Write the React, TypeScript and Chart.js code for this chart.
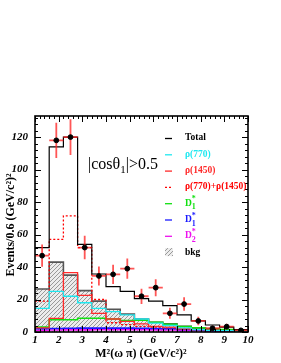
import React, { useEffect, useRef } from "react";
import { Chart, registerables } from "chart.js";
Chart.register(...registerables);

// bin low edges of M^2(omega pi), width 0.6 (GeV/c^2)^2
const binLow = [1.0, 1.6, 2.2, 2.8, 3.4, 4.0, 4.6, 5.2, 5.8, 6.4, 7.0, 7.6, 8.2, 8.8, 9.4];
const binWidth = 0.6;
const xTicks = [1, 2, 3, 4, 5, 6, 7, 8, 9, 10];
const yTicks = [0, 20, 40, 60, 80, 100, 120];

const dataCounts = [47, 118, 120, 52, 34.5, 35.5, 39, 22, 27.3, 11.5, 17.2, 6.8, 2.3, 3.3, 1];
const totalFit = [52, 114, 120, 54, 35.7, 28, 25, 20.5, 19, 16.3, 10.5, 6.8, 4.3, 3, 1.5];
const rho770 = [14.6, 25, 22, 18, 14.6, 12.5, 10.5, 8, 5.5, 4, 2.5, 1.5, 1, 0.8, 0.5];
const rho1450 = [2.5, 8.4, 36.5, 22.5, 11.5, 8, 6.5, 5, 3.5, 3, 2, 1.5, 1, 0.8, 0.5];
const rhoSum = [19, 57, 71.5, 52, 20, 5.7, 4.5, 3.5, 3, 2.5, 2, 1.5, 1, 0.6, 0.3];
const d1star0 = [3, 7.5, 7.5, 8.5, 8.5, 8, 7, 7.2, 6, 4.8, 3.3, 2.6, 2, 1.5, 1];
const d1star = [2, 2.2, 2.3, 2.4, 2.4, 2.4, 2.4, 2.3, 2.2, 2, 1.6, 1.2, 0.8, 0.5, 0.3];
const d2star0 = [1, 1.2, 1.3, 1.3, 1.4, 1.4, 1.4, 1.4, 1.3, 1.2, 1, 0.8, 0.6, 0.4, 0.2];
const bkg = [26.5, 43, 35, 25.5, 19, 14, 11, 8, 6, 5, 3.5, 2.5, 1.5, 1, 0.5];

const legendLabels = ["Total", "ρ(770)", "ρ(1450)", "ρ(770)+ρ(1450)", "D", "D", "D", "bkg"];
const legendSub = ["", "", "", "", "1", "1", "2", ""];
const legendSup = ["", "", "", "", "*", "*", "*", ""];

const SERIF = "'Liberation Serif', 'DejaVu Serif', serif";

function stepData(vals: number[]) {
  // one point at each bin's low edge (value held until the next point), plus the last upper edge
  const pts = vals.map((v, i) => ({ x: binLow[i], y: v }));
  pts.push({ x: binLow[binLow.length - 1] + binWidth, y: vals[vals.length - 1] });
  return pts;
}

function makePattern(): CanvasPattern | string {
  const c = document.createElement("canvas");
  c.width = 4;
  c.height = 4;
  const g = c.getContext("2d");
  if (!g) return "#ccc";
  g.fillStyle = "#ececec";
  g.fillRect(0, 0, 4, 4);
  g.strokeStyle = "#999999";
  g.lineWidth = 1;
  g.beginPath();
  g.moveTo(0, 4);
  g.lineTo(4, 0);
  g.moveTo(-1, 1);
  g.lineTo(1, -1);
  g.moveTo(3, 5);
  g.lineTo(5, 3);
  g.stroke();
  const p = g.createPattern(c, "repeat");
  return p || "#ccc";
}

export default function App() {
  const ref = useRef<HTMLCanvasElement>(null);
  useEffect(() => {
    document.body.style.margin = "0";
    const canvas = ref.current;
    if (!canvas) return;
    const pattern = makePattern();
    const lineColors = ["#000000", "#1fe8f0", "#ff2a2a", "#ff0000", "#10e010", "#1a1aff", "#ee10ee"];

    const overlay = {
      id: "overlay",
      beforeDatasetDraw(chart: any, args: any) {
        if (args.index !== 0) return;
        const { ctx, chartArea } = chart;
        const xs = chart.scales.x;
        const ys = chart.scales.y;
        ctx.save();
        ctx.beginPath();
        ctx.rect(chartArea.left, chartArea.top, chartArea.right - chartArea.left, chartArea.bottom - chartArea.top);
        ctx.clip();
        ctx.strokeStyle = "rgba(255,30,30,0.75)";
        ctx.lineWidth = 1.8;
        dataCounts.forEach((v, i) => {
          const xc = binLow[i] + binWidth / 2;
          const err = Math.sqrt(Math.max(v, 1));
          const px = xs.getPixelForValue(xc);
          const py = ys.getPixelForValue(v);
          ctx.beginPath();
          ctx.moveTo(xs.getPixelForValue(binLow[i]), py);
          ctx.lineTo(xs.getPixelForValue(binLow[i] + binWidth), py);
          ctx.moveTo(px, ys.getPixelForValue(v - err));
          ctx.lineTo(px, ys.getPixelForValue(v + err));
          ctx.stroke();
        });
        ctx.restore();
      },
      afterDraw(chart: any) {
        const { ctx, chartArea } = chart;
        const xs = chart.scales.x;
        const ys = chart.scales.y;
        const { left, right, top, bottom } = chartArea;
        ctx.save();
        // ticks
        ctx.strokeStyle = "#000";
        ctx.lineWidth = 1;
        ctx.beginPath();
        for (let v = 0; v <= 133; v += 4) {
          const py = Math.round(ys.getPixelForValue(v)) + 0.5;
          const len = v % 20 === 0 ? 6 : 3;
          ctx.moveTo(left, py);
          ctx.lineTo(left + len, py);
          ctx.moveTo(right, py);
          ctx.lineTo(right - len, py);
        }
        for (let k = 0; k <= 45; k++) {
          const v = 1 + k * 0.2;
          const px = Math.round(xs.getPixelForValue(v)) + 0.5;
          const len = k % 5 === 0 ? 6 : 3;
          ctx.moveTo(px, bottom);
          ctx.lineTo(px, bottom - len);
          ctx.moveTo(px, top);
          ctx.lineTo(px, top + len);
        }
        ctx.stroke();
        // frame
        ctx.lineWidth = 1.6;
        ctx.strokeRect(left, top, right - left, bottom - top);

        // axis titles
        ctx.fillStyle = "#000";
        ctx.font = `bold 12px ${SERIF}`;
        ctx.textAlign = "center";
        ctx.textBaseline = "alphabetic";
        ctx.fillText("M²(ω π) (GeV/c²)²", 141, 357);
        ctx.save();
        ctx.translate(14, 225);
        ctx.rotate(-Math.PI / 2);
        ctx.fillText("Events/0.6 (GeV/c²)²", 0, 0);
        ctx.restore();

        // cos label
        ctx.textAlign = "left";
        ctx.font = `16px ${SERIF}`;
        let x = 88;
        const base = 169;
        ctx.fillText("|cosθ", x, base);
        x += ctx.measureText("|cosθ").width;
        ctx.font = `11px ${SERIF}`;
        ctx.fillText("1", x, base + 4);
        x += ctx.measureText("1").width;
        ctx.font = `16px ${SERIF}`;
        ctx.fillText("|>0.5", x, base);

        // legend
        const legendColors = ["#000", "#1fe8f0", "#ff2a2a", "#ff0000", "#10e010", "#1a1aff", "#ee10ee", "#000"];
        legendLabels.forEach((lab, i) => {
          const yc = 138 + i * 16.3;
          if (i < 7) {
            ctx.strokeStyle = legendColors[i];
            ctx.lineWidth = 1.3;
            ctx.setLineDash(i === 3 ? [2, 2] : []);
            ctx.beginPath();
            ctx.moveTo(165, yc + 0.5);
            ctx.lineTo(172, yc + 0.5);
            ctx.stroke();
            ctx.setLineDash([]);
          } else {
            ctx.fillStyle = pattern as any;
            ctx.fillRect(165, yc - 4, 8, 8);
          }
          ctx.fillStyle = legendColors[i];
          ctx.font = `bold 9.5px ${SERIF}`;
          ctx.textBaseline = "middle";
          let tx = 185;
          ctx.fillText(lab, tx, yc);
          if (legendSup[i]) {
            tx += ctx.measureText(lab).width;
            ctx.font = `bold 8px ${SERIF}`;
            ctx.fillText(legendSup[i], tx, yc - 4);
            ctx.fillText(legendSub[i], tx, yc + 4);
          }
        });
        ctx.restore();
      },
    };

    const lineDs = (label: string, vals: number[], color: string, order: number, extra: any = {}) => ({
      type: "line",
      label,
      data: stepData(vals),
      stepped: "before",
      borderColor: color,
      borderWidth: 1.3,
      pointRadius: 0,
      fill: false,
      order,
      ...extra,
    });

    const chart = new Chart(canvas, {
      type: "line",
      data: {
        datasets: [
          {
            type: "scatter",
            label: "Data",
            data: dataCounts.map((v, i) => ({ x: binLow[i] + binWidth / 2, y: v })),
            pointRadius: 2.4,
            pointBackgroundColor: "#000",
            pointBorderColor: "#000",
            showLine: false,
            order: 0,
          } as any,
          lineDs("Total", totalFit, lineColors[0], 1, { borderWidth: 1.2 }),
          lineDs("ρ(770)", rho770, lineColors[1], 2),
          lineDs("ρ(1450)", rho1450, lineColors[2], 3),
          lineDs("ρ(770)+ρ(1450)", rhoSum, lineColors[3], 4, { borderDash: [2, 2] }),
          lineDs("D1*0", d1star0, lineColors[4], 5, { borderWidth: 1.6 }),
          lineDs("D1*", d1star, lineColors[5], 6, { borderWidth: 1.6 }),
          lineDs("D2*0", d2star0, lineColors[6], 7, { borderWidth: 1.6 }),
          lineDs("bkg", bkg, "#555555", 8, { fill: "origin", backgroundColor: pattern, borderWidth: 1.6 }),
        ] as any,
      },
      options: {
        responsive: false,
        animation: false,
        layout: { padding: { left: 0, top: 116, right: 33, bottom: 0 } },
        plugins: { legend: { display: false }, tooltip: { enabled: false } },
        scales: {
          x: {
            type: "linear",
            min: 1,
            max: 10,
            afterFit: (s: any) => {
              s.height = 31;
            },
            afterBuildTicks: (s: any) => {
              s.ticks = xTicks.map((v) => ({ value: v }));
            },
            grid: { display: false, drawTicks: false },
            border: { display: false },
            ticks: {
              autoSkip: false,
              maxRotation: 0,
              padding: 2,
              color: "#000",
              font: { family: SERIF, size: 11, style: "italic", weight: "bold" },
            },
          },
          y: {
            type: "linear",
            min: 0,
            max: 133,
            afterFit: (s: any) => {
              s.width = 35;
            },
            afterBuildTicks: (s: any) => {
              s.ticks = yTicks.map((v) => ({ value: v }));
            },
            grid: { display: false, drawTicks: false },
            border: { display: false },
            ticks: {
              padding: 7,
              color: "#000",
              font: { family: SERIF, size: 11, style: "italic", weight: "bold" },
            },
          },
        },
      } as any,
      plugins: [overlay],
    });
    return () => chart.destroy();
  }, []);
  return <canvas ref={ref} width={281} height={363} style={{ display: "block" }} />;
}
